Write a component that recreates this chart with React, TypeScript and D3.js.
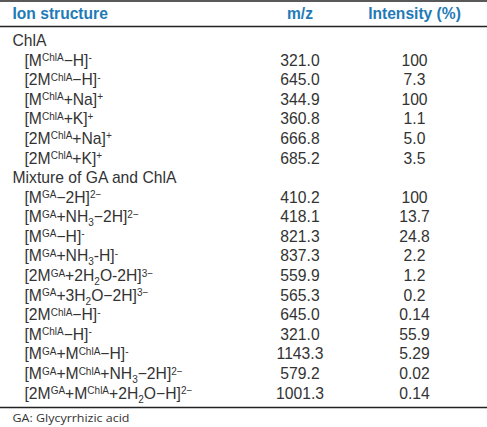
import React from "react";
import * as d3 from "d3";

const headers = ["Ion structure", "m/z", "Intensity (%)"];
const groups = ["ChlA", "Mixture of GA and ChlA"];
const ions = [
  "[M^{ChlA}−H]^{-}",
  "[2M^{ChlA}−H]^{-}",
  "[M^{ChlA}+Na]^{+}",
  "[M^{ChlA}+K]^{+}",
  "[2M^{ChlA}+Na]^{+}",
  "[2M^{ChlA}+K]^{+}",
  "[M^{GA}−2H]^{2−}",
  "[M^{GA}+NH_{3}−2H]^{2−}",
  "[M^{GA}−H]^{-}",
  "[M^{GA}+NH_{3}-H]^{-}",
  "[2M^{GA}+2H_{2}O-2H]^{3−}",
  "[M^{GA}+3H_{2}O−2H]^{3−}",
  "[2M^{ChlA}−H]^{-}",
  "[M^{ChlA}−H]^{-}",
  "[M^{GA}+M^{ChlA}−H]^{-}",
  "[M^{GA}+M^{ChlA}+NH_{3}−2H]^{2−}",
  "[2M^{GA}+M^{ChlA}+2H_{2}O−H]^{2−}",
];
const mz = ["321.0", "645.0", "344.9", "360.8", "666.8", "685.2", "410.2", "418.1", "821.3", "837.3", "559.9", "565.3", "645.0", "321.0", "1143.3", "579.2", "1001.3"];
const intensity = ["100", "7.3", "100", "1.1", "5.0", "3.5", "100", "13.7", "24.8", "2.2", "1.2", "0.2", "0.14", "55.9", "5.29", "0.02", "0.14"];
const groupOf = [0, 0, 0, 0, 0, 0, 1, 1, 1, 1, 1, 1, 1, 1, 1, 1, 1];
const footnote = "GA: Glycyrrhizic acid";

const W = 487;
const H = 427;
const FONT = "'Liberation Sans', Arial, sans-serif";
const BLUE = "#1f7bb6";
const TEXT = "#333333";
const FS = 15.7;

type Seg = { t: string; k: "n" | "sup" | "sub" };
function parse(s: string): Seg[] {
  const out: Seg[] = [];
  const re = /\^\{([^}]*)\}|_\{([^}]*)\}|([^\^_]+)/g;
  let m: RegExpExecArray | null;
  while ((m = re.exec(s))) {
    if (m[1] !== undefined) out.push({ t: m[1], k: "sup" });
    else if (m[2] !== undefined) out.push({ t: m[2], k: "sub" });
    else out.push({ t: m[3], k: "n" });
  }
  return out;
}

function Rich({ s, x, y }: { s: string; x: number; y: number }) {
  const segs = parse(s);
  let cur = 0;
  return (
    <text x={x} y={y} fontFamily={FONT} fontSize={FS} fill={TEXT}>
      {segs.map((sg, i) => {
        const target = sg.k === "sup" ? -4.5 : sg.k === "sub" ? 4 : 0;
        const dy = target - cur;
        cur = target;
        return (
          <tspan key={i} dy={dy} fontSize={sg.k === "n" ? FS : 10}>
            {sg.t}
          </tspan>
        );
      })}
    </text>
  );
}

export default function App() {
  const lines: { type: "g" | "r"; idx: number }[] = [];
  ions.forEach((_, i) => {
    if (i === 0 || groupOf[i] !== groupOf[i - 1]) lines.push({ type: "g", idx: groupOf[i] });
    lines.push({ type: "r", idx: i });
  });
  const y = d3
    .scaleLinear()
    .domain([0, lines.length - 1])
    .range([46, 398.6]);
  const colX = d3.scaleOrdinal<string, number>().domain(headers).range([12.5, 300, 414.5]);

  return (
    <svg
      width={W}
      height={H}
      style={{ position: "absolute", left: 0, top: 0, background: "#fff" }}
    >
      <rect width={W} height={H} fill="#fff" />
      <line x1={0} x2={W} y1={1} y2={1} stroke="#222" strokeWidth={1.6} />
      <line x1={0} x2={W} y1={26.5} y2={26.5} stroke="#222" strokeWidth={1.4} />
      <line x1={0} x2={W} y1={407.5} y2={407.5} stroke="#222" strokeWidth={1.4} />
      {headers.map((h, i) => (
        <text
          key={h}
          x={colX(h)}
          y={18.5}
          textAnchor={i === 0 ? "start" : "middle"}
          fontFamily={FONT}
          fontWeight="bold"
          fontSize={15.6}
          fill={BLUE}
        >
          {h}
        </text>
      ))}
      {lines.map((ln, j) =>
        ln.type === "g" ? (
          <text key={"g" + j} x={12.5} y={y(j)} fontFamily={FONT} fontSize={FS} fill={TEXT}>
            {groups[ln.idx]}
          </text>
        ) : (
          <g key={"r" + j}>
            <Rich s={ions[ln.idx]} x={24.5} y={y(j)} />
            <text x={colX(headers[1])} y={y(j)} textAnchor="middle" fontFamily={FONT} fontSize={FS} fill={TEXT}>
              {mz[ln.idx]}
            </text>
            <text x={colX(headers[2])} y={y(j)} textAnchor="middle" fontFamily={FONT} fontSize={FS} fill={TEXT}>
              {intensity[ln.idx]}
            </text>
          </g>
        )
      )}
      <text
        x={12.5}
        y={422}
        fontFamily="'Open Sans', sans-serif"
        fontSize={11}
        textLength={117}
        lengthAdjust="spacingAndGlyphs"
        fill={TEXT}
      >
        {footnote}
      </text>
    </svg>
  );
}
